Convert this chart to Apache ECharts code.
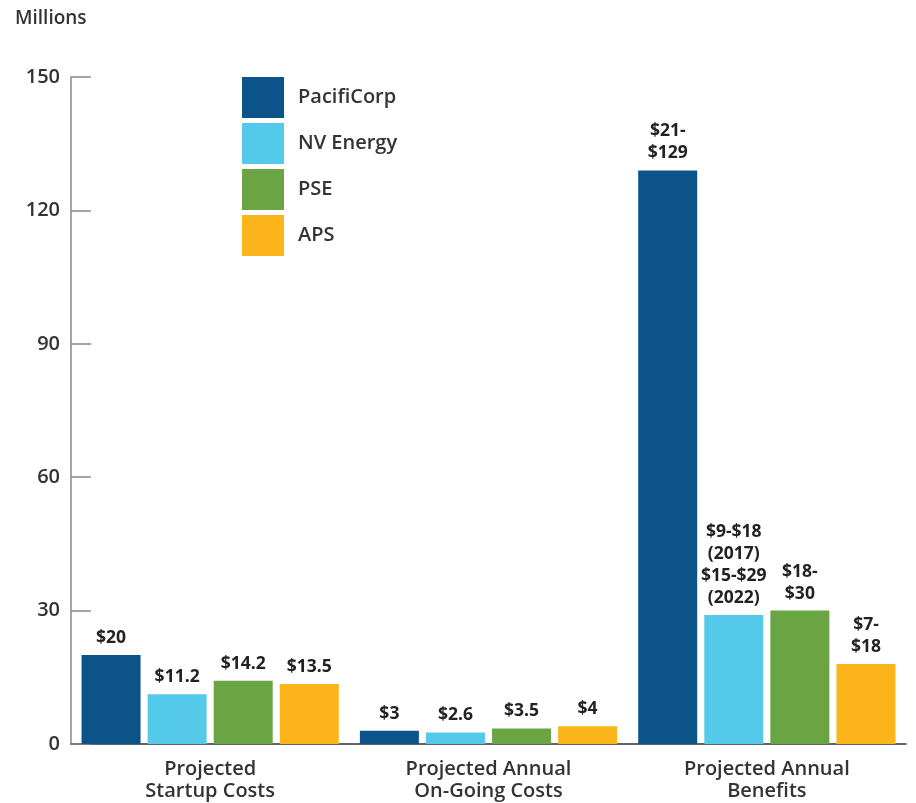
<!DOCTYPE html>
<html>
<head>
<meta charset="utf-8">
<script src="https://cdn.jsdelivr.net/npm/echarts@6/dist/echarts.min.js"></script>
<style>
  html, body { margin: 0; padding: 0; background: #fff; }
  #chart { width: 916px; height: 803px; }
</style>
</head>
<body>
<div id="chart"></div>
<script>
// 类别、数值、标签
const categories = ['Projected\nStartup Costs', 'Projected Annual\nOn-Going Costs', 'Projected Annual\nBenefits'];
const seriesNames = ['PacifiCorp', 'NV Energy', 'PSE', 'APS'];
const seriesColors = ['#0b5388', '#55c9ea', '#6aa443', '#fbb51a'];

const pacifiCorp = [20, 3, 129];
const nvEnergy = [11.2, 2.6, 29];
const pse = [14.2, 3.5, 30];
const aps = [13.5, 4, 18];

const pacifiCorpLabels = ['$20', '$3', '$21-\n$129'];
const nvEnergyLabels = ['$11.2', '$2.6', '$9-$18\n(2017)\n$15-$29\n(2022)'];
const pseLabels = ['$14.2', '$3.5', '$18-\n$30'];
const apsLabels = ['$13.5', '$4', '$7-\n$18'];

const yTicks = [0, 30, 60, 90, 120, 150];

const values = [pacifiCorp, nvEnergy, pse, aps];
const labels = [pacifiCorpLabels, nvEnergyLabels, pseLabels, apsLabels];

const chart = echarts.init(document.getElementById('chart'));
const font = '"Open Sans", "Noto Sans", sans-serif';

const option = {
  animation: false,
  textStyle: { fontFamily: font },
  title: {
    text: 'Millions', left: 10, top: 4,
    textStyle: { fontSize: 19, fontWeight: 600, color: '#333', fontFamily: font }
  },
  legend: {
    orient: 'vertical', left: 237, top: 72,
    itemWidth: 42, itemHeight: 41, itemGap: 5,
    icon: 'rect',
    textStyle: { fontSize: 20, fontWeight: 600, color: '#333', padding: [0, 0, 0, 9], fontFamily: font },
    data: seriesNames
  },
  grid: { left: 71, right: 10, top: 77, bottom: 59, containLabel: false },
  xAxis: {
    type: 'category',
    data: categories,
    axisLine: { lineStyle: { color: '#333', width: 1.5 } },
    axisTick: { inside: true, length: 17, lineStyle: { color: '#999', width: 2 } },
    axisLabel: { fontSize: 20, fontWeight: 600, color: '#333', lineHeight: 22, margin: 14, fontFamily: font }
  },
  yAxis: {
    type: 'value', min: 0, max: 150, interval: 30,
    axisLine: { show: true, lineStyle: { color: '#888', width: 1.5 } },
    axisTick: { show: true, inside: true, length: 20, lineStyle: { color: '#888', width: 1.5 } },
    splitLine: { show: false },
    axisLabel: {
      fontSize: 20, fontWeight: 600, color: '#333', margin: 11, fontFamily: font,
      formatter: v => yTicks.includes(v) ? String(v) : ''
    }
  },
  series: seriesNames.map((name, i) => ({
    name: name,
    type: 'bar',
    barWidth: 59,
    barGap: '12%',
    itemStyle: { color: seriesColors[i] },
    label: {
      show: true, position: 'top', distance: 6,
      fontSize: 17.5, fontWeight: 'bold', color: '#222', lineHeight: 22, fontFamily: font,
      formatter: p => labels[i][p.dataIndex]
    },
    data: values[i]
  }))
};
chart.setOption(option);
</script>
</body>
</html>
